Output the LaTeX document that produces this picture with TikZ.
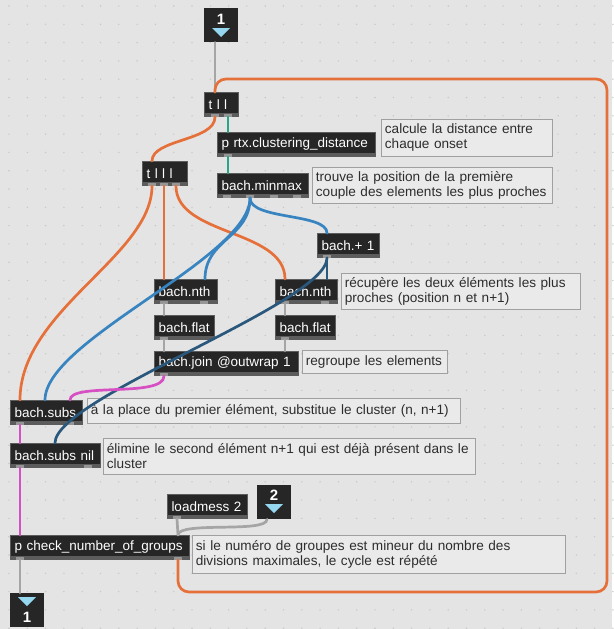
\documentclass[tikz,border=0pt]{standalone}
\usepackage{fontspec}
\setmainfont{Liberation Sans}
\usepackage{tikz}
\usetikzlibrary{calc}

\definecolor{patchbg}{RGB}{228,228,228}
\definecolor{gridc}{RGB}{200,200,200}
\definecolor{objbody}{RGB}{38,38,38}
\definecolor{objedge}{RGB}{92,92,92}
\definecolor{tabc}{RGB}{150,150,150}
\definecolor{cmtedge}{RGB}{160,160,160}
\definecolor{cmtfill}{RGB}{234,234,234}
\definecolor{cmttext}{RGB}{45,45,45}
\definecolor{cordgrey}{RGB}{165,165,165}
\definecolor{cordorange}{RGB}{230,112,58}
\definecolor{cordblue}{RGB}{55,132,192}
\definecolor{corddark}{RGB}{42,88,125}
\definecolor{cordpink}{RGB}{214,80,196}
\definecolor{cordteal}{RGB}{38,165,135}
\definecolor{iotri}{RGB}{150,215,240}

\begin{document}
\begin{tikzpicture}[x=1pt,y=-1pt,
    obj/.style={anchor=north west, fill=objbody, draw=objedge, line width=1pt,
        text=white, font=\fontsize{13.5}{15}\selectfont, minimum height=24,
        inner xsep=4pt, inner ysep=0pt, align=left, text width=#1,
        path picture={\fill[objedge] ([yshift=4pt]path picture bounding box.south west)
            rectangle (path picture bounding box.south east);}},
    cmt/.style={anchor=north west, fill=cmtfill, draw=cmtedge, line width=0.8pt,
        text=cmttext, font=\fontsize{13.6}{15}\selectfont,
        inner xsep=3.5pt, inner ysep=3pt, align=left, text width=#1},
    iobox/.style={anchor=north west, fill=objbody, minimum width=34, minimum height=34, inner sep=0pt},
    iolbl/.style={text=white, font=\bfseries\fontsize{15}{15}\selectfont, inner sep=0pt},
    cord/.style={line width=2.7pt, line cap=round},
    tab/.style={fill=tabc}]

    % patcher background and grid
    \fill[patchbg] (0,0) rectangle (612,629);
    \foreach \gx in {0,...,33}
        \foreach \gy in {0,...,34}
            \fill[gridc] (9+\gx*18.3,6+\gy*18.3) circle (0.8);

    % inlets and outlet
    \node[iobox] (in1) at (204,8) {};
    \node[iolbl] (in1lbl) at ($(in1.north west)+(17,11)$) {1};
    \fill[iotri] ($(in1.north west)+(8,20)$) -- ++(18,0) -- ++(-9,9) -- cycle;

    \node[iobox] (in2) at (257,485) {};
    \node[iolbl] (in2lbl) at ($(in2.north west)+(17,10)$) {2};
    \fill[iotri] ($(in2.north west)+(8,19)$) -- ++(18,0) -- ++(-9,9) -- cycle;

    \node[iobox] (out1) at (10,593) {};
    \fill[iotri] ($(out1.north west)+(8,4)$) -- ++(18,0) -- ++(-9,9) -- cycle;
    \node[iolbl] (out1lbl) at ($(out1.north west)+(17,24)$) {1};

    % objects
    \node[obj=26pt] (tll) at (204,92) {t l l};
    \node[obj=150pt] (prtx) at (217,132) {p rtx.clustering\_distance};
    \node[obj=37pt] (tlll) at (142,161) {t l l l};
    \node[obj=83pt] (minmax) at (217,173) {bach.minmax};
    \node[obj=54pt] (plus) at (317,233) {bach.+ 1};
    \node[obj=55pt] (nthL) at (154,279) {bach.nth};
    \node[obj=54pt] (nthR) at (275,279) {bach.nth};
    \node[obj=52pt] (flatL) at (154,315) {bach.flat};
    \node[obj=52pt] (flatR) at (275,315) {bach.flat};
    \node[obj=136pt] (join) at (154,351) {bach.join @outwrap 1};
    \node[obj=64pt] (subs) at (10,400) {bach.subs};
    \node[obj=82pt] (subsnil) at (10,443) {bach.subs nil};
    \node[obj=72pt] (loadmess) at (167,494) {loadmess 2};
    \node[obj=171pt] (pcheck) at (10,535) {p check\_number\_of\_groups};

    % outlet tabs
    \foreach \nd/\o in {tll/11,tll/24,prtx/11,tlll/10,tlll/22,tlll/34,minmax/10,minmax/33,minmax/57,minmax/80,
        plus/10,nthL/10,nthL/50,nthR/10,nthR/50,flatL/10,flatR/10,join/10,subs/10,subs/60,
        subsnil/10,subsnil/78,loadmess/10,pcheck/10,pcheck/168}
        \fill[tab] ($(\nd.south west)+(\o-4,-3)$) rectangle +(8,3);

    % comments
    \node[cmt=164pt, minimum height=37] (c1) at (381,119) {calcule la distance entre\\chaque onset};
    \node[cmt=233pt, minimum height=36] (c2) at (312,167) {trouve la position de la première\\couple des elements les plus proches};
    \node[cmt=232pt, minimum height=36] (c3) at (341,273) {récupère les deux éléments les plus\\proches (position n et n+1)};
    \node[cmt=138pt, minimum height=23] (c4) at (302,350) {regroupe les elements};
    \node[cmt=366pt, minimum height=25] (c5) at (87,398) {à la place du premier élément, substitue le cluster (n, n+1)};
    \node[cmt=365pt, minimum height=36] (c6) at (103,438) {élimine le second élément n+1 qui est déjà présent dans le\\cluster};
    \node[cmt=366pt, minimum height=38] (c7) at (192,535) {si le numéro de groupes est mineur du nombre des\\divisions maximales, le cycle est répété};

    % grey cords
    \draw[cord, cordgrey] ($(in1.south west)+(11,0)$) -- ($(tll.north west)+(11,0)$);
    \draw[cord, cordgrey] ($(nthL.south west)+(10,0)$) -- ($(flatL.north west)+(10,0)$);
    \draw[cord, cordgrey] ($(nthR.south west)+(10,0)$) -- ($(flatR.north west)+(10,0)$);
    \draw[cord, cordgrey] ($(flatL.south west)+(10,0)$) -- ($(join.north west)+(10,0)$);
    \draw[cord, cordgrey] ($(flatR.south west)+(10,0)$) -- ($(join.north west)+(131,0)$);
    \draw[cord, cordgrey] ($(loadmess.south west)+(10,0)$) -- ($(pcheck.north west)+(168,0)$);
    \draw[cord, cordgrey] ($(in2.south west)+(10,0)$) .. controls +(0,14) and +(0,-14) .. ($(pcheck.north west)+(168,0)$);
    \draw[cord, cordgrey] ($(pcheck.south west)+(10,0)$) -- ($(out1.north west)+(10,0)$);

    % teal cords
    \draw[cord, cordteal] ($(tll.south west)+(24,0)$) -- ($(prtx.north west)+(11,0)$);
    \draw[cord, cordteal] ($(prtx.south west)+(11,0)$) -- ($(minmax.north west)+(11,0)$);

    % orange cords
    \draw[cord, cordorange] ($(tll.south west)+(11,0)$) .. controls +(0,24) and +(0,-22) .. ($(tlll.north west)+(10,0)$);
    \draw[cord, cordorange] ($(tlll.south west)+(10,0)$) .. controls +(0,70) and +(0,-90) .. ($(subs.north west)+(10,0)$);
    \draw[cord, cordorange] ($(tlll.south west)+(22,0)$) -- ($(nthL.north west)+(10,0)$);
    \draw[cord, cordorange] ($(tlll.south west)+(34,0)$) .. controls +(0,50) and +(0,-50) .. ($(nthR.north west)+(10,0)$);
    \draw[cord, cordorange, rounded corners=11] ($(pcheck.south west)+(168,0)$) |- (607,592)
        |- ($(tll.north west)+(11,-13)$) -- ($(tll.north west)+(11,0)$);

    % blue cords
    \draw[cord, cordblue] ($(minmax.south west)+(33,0)$) .. controls +(0,22) and +(0,-20) .. ($(plus.north west)+(10,0)$);
    \draw[cord, cordblue] ($(minmax.south west)+(33,0)$) .. controls +(0,40) and +(0,-40) .. ($(nthL.north west)+(51,0)$);
    \draw[cord, cordblue] ($(minmax.south west)+(33,0)$) .. controls +(0,60) and +(0,-60) .. ($(subs.north west)+(35,0)$);
    \draw[cord, corddark] ($(plus.south west)+(10,0)$) -- ($(nthR.north west)+(52,0)$);
    \draw[cord, corddark] ($(plus.south west)+(10,0)$) .. controls +(0,45) and +(0,-45) .. ($(subsnil.north west)+(45,0)$);

    % pink cords
    \draw[cord, cordpink] ($(join.south west)+(10,0)$) .. controls +(0,22) and +(0,-18) .. ($(subs.north west)+(60,0)$);
    \draw[cord, cordpink] ($(subs.south west)+(10,0)$) -- ($(subsnil.north west)+(10,0)$);
    \draw[cord, cordpink] ($(subsnil.south west)+(10,0)$) -- ($(pcheck.north west)+(10,0)$);

    \useasboundingbox (0,0) rectangle (612,629);
\end{tikzpicture}
\end{document}
